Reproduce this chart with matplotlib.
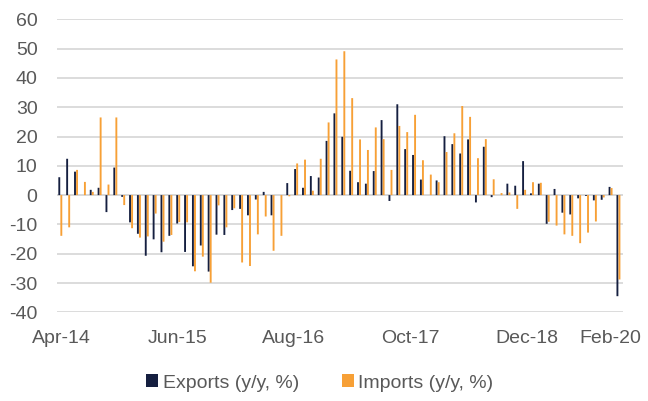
import matplotlib
matplotlib.use("Agg")
import matplotlib.pyplot as plt
import numpy as np

months = ["Apr-14", "May-14", "Jun-14", "Jul-14", "Aug-14", "Sep-14", "Oct-14", "Nov-14", "Dec-14",
          "Jan-15", "Feb-15", "Mar-15", "Apr-15", "May-15", "Jun-15", "Jul-15", "Aug-15", "Sep-15",
          "Oct-15", "Nov-15", "Dec-15", "Jan-16", "Feb-16", "Mar-16", "Apr-16", "May-16", "Jun-16",
          "Jul-16", "Aug-16", "Sep-16", "Oct-16", "Nov-16", "Dec-16", "Jan-17", "Feb-17", "Mar-17",
          "Apr-17", "May-17", "Jun-17", "Jul-17", "Aug-17", "Sep-17", "Oct-17", "Nov-17", "Dec-17",
          "Jan-18", "Feb-18", "Mar-18", "Apr-18", "May-18", "Jun-18", "Jul-18", "Aug-18", "Sep-18",
          "Oct-18", "Nov-18", "Dec-18", "Jan-19", "Feb-19", "Mar-19", "Apr-19", "May-19", "Jun-19",
          "Jul-19", "Aug-19", "Sep-19", "Oct-19", "Nov-19", "Dec-19", "Jan-20", "Feb-20", "Mar-20"]

exports = [6.1, 12.4, 8.0, 0.0, 1.8, 2.5, -5.8, 9.4, -0.6, -9.3, -13.2, -20.7,
           -15.1, -19.5, -13.9, -9.7, -19.4, -24.3, -17.2, -26.1, -13.5, -13.6, -5.1, -4.7,
           -6.9, -1.5, 1.1, -6.9, 0.0, 4.1, 8.9, 2.5, 6.5, 6.0, 18.5, 27.9,
           19.9, 8.3, 4.4, 3.9, 8.2, 25.6, -2.0, 31.0, 15.7, 13.7, 5.3, 0.0,
           5.0, 20.1, 17.4, 14.2, 19.0, -2.5, 16.5, -0.7, 0.0, 3.9, 3.2, 11.6,
           0.6, 3.9, -9.8, 2.1, -6.0, -6.6, -1.1, -0.3, -1.8, -1.6, 2.8, -34.5]

imports = [-13.9, -11.0, 8.6, 4.5, 1.1, 26.5, 3.6, 26.5, -3.4, -11.3, -14.5, -14.1,
           -6.3, -15.9, -13.6, -9.2, -9.3, -26.0, -21.0, -29.9, -3.5, -11.0, -4.5, -23.0,
           -24.2, -13.4, -7.3, -19.0, -13.9, -0.4, 10.8, 12.1, 1.5, 12.4, 24.8, 46.3,
           49.1, 33.1, 19.0, 15.4, 23.1, 19.1, 8.6, 23.6, 21.5, 27.4, 11.9, 7.0,
           4.4, 14.7, 21.1, 30.4, 26.7, 12.6, 19.1, 5.4, 0.7, 0.9, -4.7, 1.8,
           4.4, 4.2, -9.1, -10.4, -13.4, -13.9, -16.4, -12.8, -9.0, -0.8, 2.4, -28.8]

tick_labels = ["Apr-14", "Jun-15", "Aug-16", "Oct-17", "Dec-18", "Feb-20"]
yticks = [60, 50, 40, 30, 20, 10, 0, -10, -20, -30, -40]

# layout: label spacing on the category axis (as drawn in the original)
label_step = 14.82
last_label_pos = 69.85

dark = "#151f40"
orange = "#f7a036"
grey_txt = "#595959"
grid_c = "#d9d9d9"

plt.rcParams["font.family"] = ["Liberation Sans", "DejaVu Sans"]

fig = plt.figure(figsize=(6.48, 4.01), dpi=100)
ax = fig.add_axes([57/648, 1 - 312.3/401, 566/648, (312.3 - 19.3)/401])

x = np.arange(len(months))
w = 0.24
ax.bar(x - 0.21, exports, width=w, color=dark, label="Exports (y/y, %)", zorder=3,
       linewidth=0, snap=False)
ax.bar(x + 0.05, imports, width=w, color=orange, label="Imports (y/y, %)", zorder=3,
       linewidth=0, snap=False)

ax.set_xlim(-0.5, len(months) - 0.5)
ax.set_ylim(-40, 60)
ax.set_yticks(yticks)
ax.set_yticklabels([str(v) for v in yticks])
ax.yaxis.grid(True, color=grid_c, linewidth=1.3, zorder=0)
ax.axhline(0, color=grid_c, linewidth=1.3, zorder=2)

tick_pos = [i * label_step for i in range(len(tick_labels) - 1)] + [last_label_pos]
ax.set_xticks(tick_pos)
ax.set_xticklabels(tick_labels)

for s in ax.spines.values():
    s.set_visible(False)
ax.tick_params(axis="both", length=0, labelsize=14, labelcolor=grey_txt)
ax.tick_params(axis="y", pad=14)
ax.tick_params(axis="x", pad=13)

leg = fig.legend(loc="center", bbox_to_anchor=(320/648, 1 - 383/401), ncol=2, frameon=False,
                 fontsize=14, handlelength=0.6, handleheight=0.6, handletextpad=0.25,
                 columnspacing=2.2)
for t in leg.get_texts():
    t.set_color(grey_txt)

fig.savefig("out.png", dpi=100)
